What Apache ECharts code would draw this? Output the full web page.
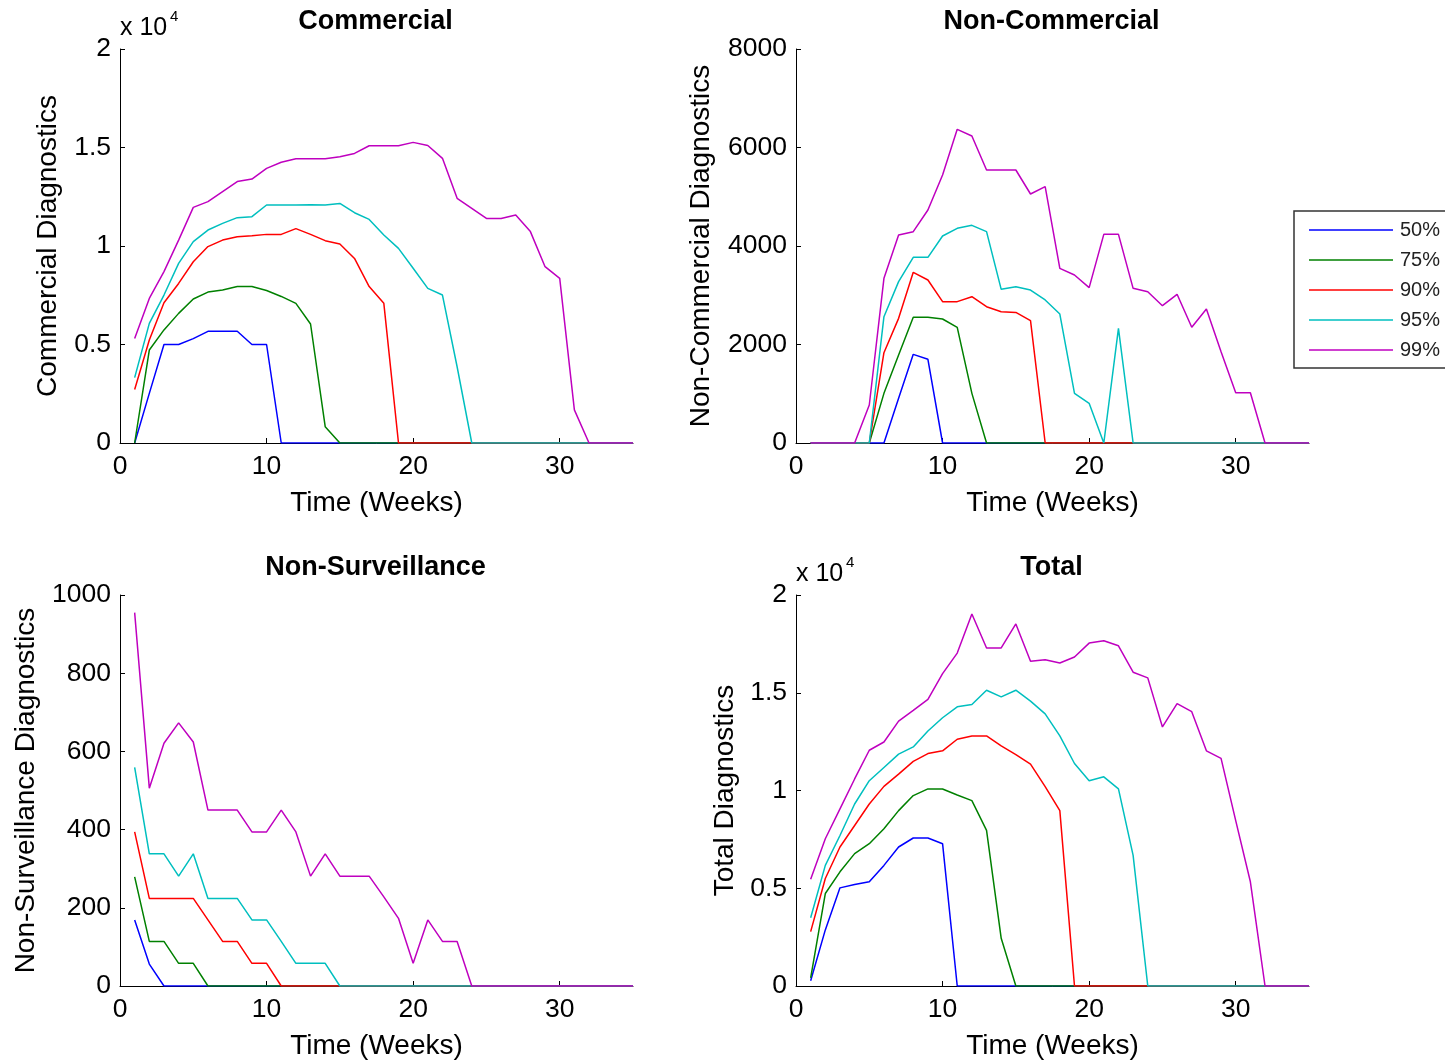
<!DOCTYPE html>
<html>
<head>
<meta charset="utf-8">
<script src="https://cdn.jsdelivr.net/npm/echarts@6/dist/echarts.min.js"></script>
<style>
html,body{margin:0;padding:0;background:#fff;}
#chart{width:1445px;height:1061px;}
</style>
</head>
<body>
<div id="chart"></div>
<script>
// ---- data ----
const weeks = [1,2,3,4,5,6,7,8,9,10,11,12,13,14,15,16,17,18,19,20,21,22,23,24,25,26,27,28,29,30,31,32,33,34,35];
const seriesNames = ['50%','75%','90%','95%','99%'];
const xTicks = [0,10,20,30];

// Commercial diagnostics
const com50 = [0,2520,5000,5000,5300,5670,5670,5670,5000,5000,0,0,0,0,0,0,0,0,0,0,0,0,0,0,0,0,0,0,0,0,0,0,0,0,0];
const com75 = [0,4720,5740,6580,7310,7660,7770,7940,7940,7740,7440,7090,6040,830,0,0,0,0,0,0,0,0,0,0,0,0,0,0,0,0,0,0,0,0,0];
const com90 = [2720,5230,7120,8100,9200,9970,10300,10470,10520,10590,10590,10880,10590,10270,10100,9370,7940,7090,0,0,0,0,0,0,0,0,0,0,0,0,0,0,0,0,0];
const com95 = [3320,6070,7510,9120,10220,10810,11150,11440,11490,12080,12080,12080,12100,12080,12160,11690,11350,10560,9880,8870,7850,7510,3870,0,0,0,0,0,0,0,0,0,0,0,0];
const com99 = [5310,7340,8700,10300,11960,12250,12760,13270,13400,13940,14250,14430,14430,14430,14530,14700,15090,15090,15090,15260,15100,14450,12420,11910,11400,11400,11570,10730,8950,8360,1680,0,0,0,0];

// Non-Commercial diagnostics
const ncom50 = [0,0,0,0,0,0,907,1800,1700,0,0,0,0,0,0,0,0,0,0,0,0,0,0,0,0,0,0,0,0,0,0,0,0,0,0];
const ncom75 = [0,0,0,0,0,1008,1787,2552,2552,2518,2349,1008,0,0,0,0,0,0,0,0,0,0,0,0,0,0,0,0,0,0,0,0,0,0,0];
const ncom90 = [0,0,0,0,0,1834,2531,3465,3310,2870,2870,2971,2768,2666,2652,2484,0,0,0,0,0,0,0,0,0,0,0,0,0,0,0,0,0,0,0];
const ncom95 = [0,0,0,0,0,2565,3276,3770,3770,4203,4359,4420,4291,3120,3174,3106,2904,2619,1008,806,0,2328,0,0,0,0,0,0,0,0,0,0,0,0,0];
const ncom99 = [0,0,0,0,772,3344,4223,4291,4731,5442,6369,6234,5543,5543,5543,5056,5205,3547,3411,3154,4237,4237,3140,3072,2788,3019,2349,2721,1854,1022,1022,0,0,0,0];

// Non-Surveillance diagnostics
const nsv50 = [169,56,0,0,0,0,0,0,0,0,0,0,0,0,0,0,0,0,0,0,0,0,0,0,0,0,0,0,0,0,0,0,0,0,0];
const nsv75 = [279,114,114,58,58,0,0,0,0,0,0,0,0,0,0,0,0,0,0,0,0,0,0,0,0,0,0,0,0,0,0,0,0,0,0];
const nsv90 = [394,224,224,224,224,169,114,114,58,58,0,0,0,0,0,0,0,0,0,0,0,0,0,0,0,0,0,0,0,0,0,0,0,0,0];
const nsv95 = [559,338,338,281,338,224,224,224,169,169,114,58,58,58,0,0,0,0,0,0,0,0,0,0,0,0,0,0,0,0,0,0,0,0,0];
const nsv99 = [955,506,621,673,624,450,450,450,394,394,450,394,281,338,281,281,281,228,173,58,169,114,114,0,0,0,0,0,0,0,0,0,0,0,0];

// Total diagnostics
const tot50 = [270,2870,5020,5190,5330,6170,7110,7570,7570,7280,0,0,0,0,0,0,0,0,0,0,0,0,0,0,0,0,0,0,0,0,0,0,0,0,0];
const tot75 = [410,4730,5840,6770,7280,8040,8970,9740,10080,10080,9770,9480,7960,2440,0,0,0,0,0,0,0,0,0,0,0,0,0,0,0,0,0,0,0,0,0];
const tot90 = [2780,5500,7110,8210,9310,10210,10840,11490,11890,12030,12620,12790,12790,12280,11840,11350,10200,8970,0,0,0,0,0,0,0,0,0,0,0,0,0,0,0,0,0];
const tot95 = [3490,6170,7700,9310,10500,11180,11860,12230,13040,13720,14280,14400,15130,14790,15130,14570,13920,12790,11380,10500,10700,10080,6680,0,0,0,0,0,0,0,0,0,0,0,0];
const tot99 = [5460,7530,9060,10590,12060,12480,13550,14100,14660,15980,17030,19030,17290,17290,18520,16610,16690,16520,16830,17540,17660,17400,16050,15760,13250,14440,14030,12030,11640,8460,5330,0,0,0,0];

const panels = [
  {title:'Commercial', yName:'Commercial Diagnostics', yMax:20000, yInt:5000, scaled:true, data:[com50,com75,com90,com95,com99]},
  {title:'Non-Commercial', yName:'Non-Commercial Diagnostics', yMax:8000, yInt:2000, scaled:false, data:[ncom50,ncom75,ncom90,ncom95,ncom99]},
  {title:'Non-Surveillance', yName:'Non-Surveillance Diagnostics', yMax:1000, yInt:200, scaled:false, data:[nsv50,nsv75,nsv90,nsv95,nsv99]},
  {title:'Total', yName:'Total Diagnostics', yMax:20000, yInt:5000, scaled:true, data:[tot50,tot75,tot90,tot95,tot99]}
];

// ---- layout / style ----
const FONT = '"Liberation Sans", Arial, sans-serif';
const colors = ['#0000FF','#008000','#FF0000','#00BFBF','#BF00BF'];
const grids = [
  {left:120, top:49, width:513, height:394},
  {left:796, top:49, width:513, height:394},
  {left:120, top:595, width:513, height:393},
  {left:796, top:595, width:513, height:393}
];
const yNameGaps = [58, 81, 80, 57];

const option = {
  animation:false,
  backgroundColor:'#fff',
  textStyle:{fontFamily:FONT},
  title: panels.map((p,i)=>({
    text:p.title,
    left: grids[i].left + grids[i].width/2 - 6,
    top: grids[i].top - 46,
    textAlign:'center',
    textStyle:{fontFamily:FONT, fontSize:27, fontWeight:'bold', color:'#000'}
  })),
  legend:{
    data:seriesNames,
    orient:'vertical',
    left:1294, top:211,
    icon:'rect',
    itemWidth:84, itemHeight:1.5, itemGap:10,
    padding:[9,24,8,15],
    borderColor:'#333', borderWidth:1.5,
    selectedMode:false,
    textStyle:{fontFamily:FONT, fontSize:20, lineHeight:20, color:'#222', padding:[0,0,0,2]}
  },
  grid: grids.map(g=>Object.assign({containLabel:false}, g)),
  xAxis: grids.map((g,i)=>({
    type:'value', gridIndex:i, min:0, max:35, interval:10,
    name:'Time (Weeks)', nameLocation:'middle', nameGap:46,
    nameTextStyle:{fontFamily:FONT, fontSize:28, color:'#000'},
    axisLine:{show:true, lineStyle:{color:'#000', width:1}},
    axisTick:{show:true, inside:true, length:5, customValues:xTicks, lineStyle:{color:'#000'}},
    axisLabel:{show:true, margin:10, customValues:xTicks, fontFamily:FONT, fontSize:26.5, color:'#000'},
    splitLine:{show:false}
  })),
  yAxis: panels.map((p,i)=>({
    type:'value', gridIndex:i, min:0, max:p.yMax, interval:p.yInt,
    name:p.yName, nameLocation:'middle', nameGap:yNameGaps[i],
    nameTextStyle:{fontFamily:FONT, fontSize:28, color:'#000'},
    axisLine:{show:true, lineStyle:{color:'#000', width:1}},
    axisTick:{show:true, inside:true, length:5, lineStyle:{color:'#000'}},
    axisLabel:{show:true, margin:9, fontFamily:FONT, fontSize:26.5, color:'#000',
      formatter: p.scaled ? (v=>String(v/10000)) : (v=>String(v))},
    splitLine:{show:false}
  })),
  series: [],
  graphic: []
};

panels.forEach((p,i)=>{
  p.data.forEach((vals,k)=>{
    option.series.push({
      type:'line', name:seriesNames[k], xAxisIndex:i, yAxisIndex:i,
      data: weeks.map((w,j)=>[w, vals[j]]),
      symbol:'none', showSymbol:false,
      lineStyle:{color:colors[k], width:1.5},
      itemStyle:{color:colors[k]},
      z: 2
    });
  });
  if (p.scaled) {
    const g = grids[i];
    option.graphic.push({
      type:'text', left:g.left, top:g.top - 33,
      style:{text:'x 10', fontFamily:FONT, fontSize:25, fill:'#000'}
    });
    option.graphic.push({
      type:'text', left:g.left + 50, top:g.top - 40,
      style:{text:'4', fontFamily:FONT, fontSize:15, fill:'#000'}
    });
  }
});

const chart = echarts.init(document.getElementById('chart'), null, {renderer:'canvas'});
chart.setOption(option);
</script>
</body>
</html>
